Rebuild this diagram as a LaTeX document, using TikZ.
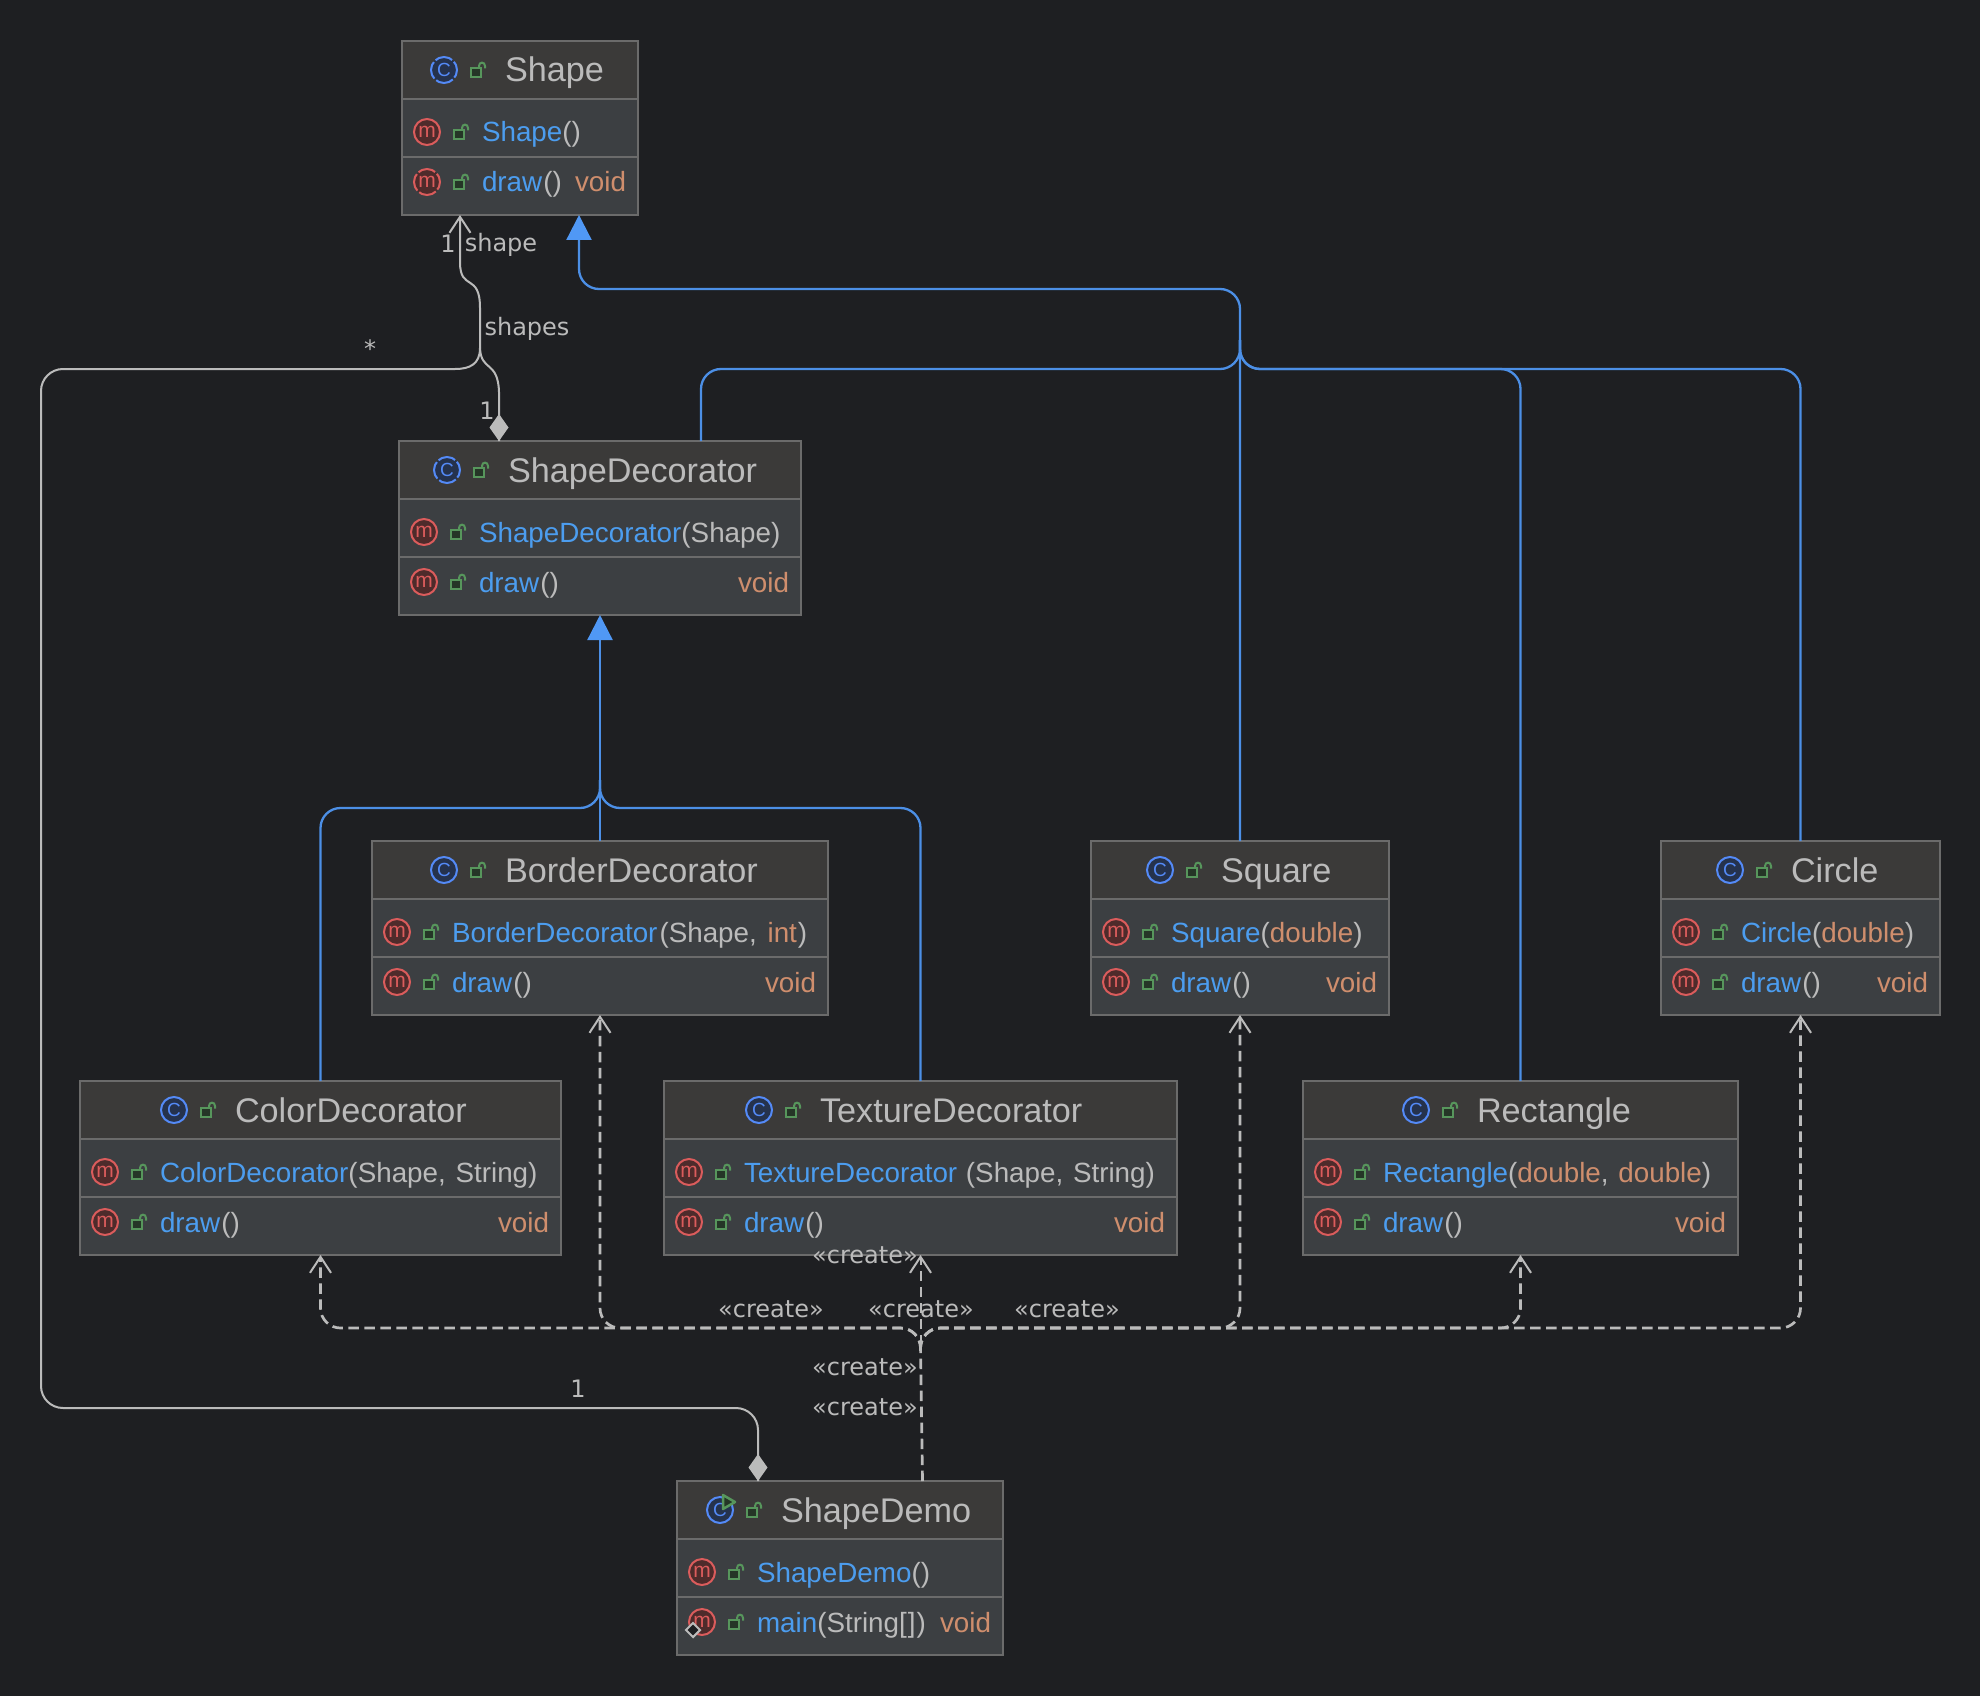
\documentclass[tikz,border=0pt]{standalone}
\usepackage{fontspec}
\setmainfont{Liberation Sans}
\newfontfamily\labelfont{DejaVu Sans}
\usetikzlibrary{arrows.meta,calc}
\definecolor{bgc}{HTML}{1E1F22}
\definecolor{headc}{HTML}{3B3A39}
\definecolor{rowc}{HTML}{3C3F42}
\definecolor{edgec}{HTML}{6B6B6B}
\definecolor{textc}{HTML}{BBBBBB}
\definecolor{namec}{HTML}{4C9DEF}
\definecolor{orgc}{HTML}{CF8E6D}
\definecolor{lockc}{HTML}{57965C}
\definecolor{lockf}{HTML}{253627}
\definecolor{redc}{HTML}{DB5C5C}
\definecolor{redf}{HTML}{4E2B2B}
\definecolor{bluec}{HTML}{548AF7}
\definecolor{bluef}{HTML}{25324D}
\definecolor{linkc}{HTML}{4C8FE6}
\definecolor{tipc}{HTML}{5098F5}
\definecolor{linec}{HTML}{BBBBBB}
\newcommand\mName[1]{\textcolor{namec}{#1}}
\newcommand\mPar[1]{\textcolor{textc}{#1}}
\newcommand\mOrg[1]{\textcolor{orgc}{#1}}
\tikzset{
  classbox/.style={draw=edgec,line width=2pt,inner sep=0pt,outer sep=0pt,anchor=north west},
  titletext/.style={anchor=base west,inner sep=0pt,outer sep=0pt,text=textc,font=\fontsize{34.2}{36}\selectfont},
  membertext/.style={anchor=base west,inner sep=0pt,outer sep=0pt,font=\fontsize{27.8}{30}\selectfont},
  voidtext/.style={anchor=base east,inner sep=0pt,outer sep=0pt,text=orgc,font=\fontsize{27.8}{30}\selectfont},
  linktext/.style={inner sep=0pt,outer sep=0pt,text=textc,font=\labelfont\fontsize{24}{26}\selectfont},
  mIcon/.style={circle,draw=redc,fill=redf,line width=2pt,minimum size=26pt,inner sep=0pt,text=redc,font=\fontsize{21}{22}\selectfont},
  cIcon/.style={circle,draw=bluec,fill=bluef,line width=2pt,minimum size=26pt,inner sep=0pt,text=bluec,font=\fontsize{19}{20}\selectfont},
  gapped/.style={dash pattern=on 18pt off 2.5pt,dash phase=9pt},
  assoc/.style={draw=linec,line width=2pt},
  inherit/.style={draw=linkc,line width=2.3pt,rounded corners=20pt},
  create/.style={draw=linec,line width=2.7pt,dash pattern=on 10.5pt off 5.5pt,rounded corners=20pt},
  lock/.pic={
    \draw[lockc,line width=2pt,fill=lockf] (-7,-2) rectangle (3,7);
    \draw[lockc,line width=2pt] (1,-2) -- (1,-4) .. controls (1,-8.5) and (7,-8.5) .. (7,-4) -- (7,-1.5);
  },
}
\newcommand\umlclass[9]{%
  \pgfmathsetmacro\bw{#4-#2}%
  \pgfmathsetmacro\lineA{#3+58}\pgfmathsetmacro\lineB{#3+116}\pgfmathsetmacro\bot{#3+174}%
  \pgfmathsetmacro\titleB{#3+41}\pgfmathsetmacro\titleC{#3+29}%
  \pgfmathsetmacro\rowAc{#3+91}\pgfmathsetmacro\rowBc{#3+141}%
  \pgfmathsetmacro\rowAb{#3+101}\pgfmathsetmacro\rowBb{#3+151}%
  \pgfmathsetmacro\mx{#2+25}\pgfmathsetmacro\lx{#2+59}\pgfmathsetmacro\tx{#2+80}%
  \pgfmathsetmacro\cx{#5-61}\pgfmathsetmacro\clx{#5-27}\pgfmathsetmacro\vx{#4-12}%
  \fill[rowc] (#2,#3) rectangle (#4,\bot);
  \fill[headc] (#2,#3) rectangle (#4,\lineA);
  \node[classbox,minimum width=\bw pt,minimum height=174pt] (#1) at (#2,#3) {};
  \draw[edgec,line width=2pt] (#2,\lineA) -- (#4,\lineA);
  \draw[edgec,line width=2pt] (#2,\lineB) -- (#4,\lineB);
  \node[cIcon,#7] (#1-icon) at (\cx,\titleC) {C};
  \pic at (\clx,\titleC) {lock};
  \node[titletext] (#1-title) at (#5,\titleB) {#6};
  \node[mIcon] (#1-micon) at (\mx,\rowAc) {m};
  \pic at (\lx,\rowAc) {lock};
  \node[membertext] (#1-ctor) at (\tx,\rowAb) {#8};
  \node[mIcon,\drawicon] (#1-dicon) at (\mx,\rowBc) {m};
  \pic at (\lx,\rowBc) {lock};
  \node[membertext] (#1-method) at (\tx,\rowBb) {#9};
  \node[voidtext] (#1-void) at (\vx,\rowBb) {void};
}
\newcommand\drawicon{}
\begin{document}
\begin{tikzpicture}[x=1pt,y=-1pt]
\fill[bgc] (0,0) rectangle (1980,1696);
\useasboundingbox (0,0) rectangle (1980,1696);

\renewcommand\drawicon{gapped}
\umlclass{shape}{402}{41}{638}{505}{Shape}{gapped}{\mName{Shape}\mPar{()}}{\mName{draw}\mPar{\hspace{1pt}()}}
\renewcommand\drawicon{}
\umlclass{deco}{399}{441}{801}{508}{ShapeDecorator}{gapped}{\mName{ShapeDecorator}\mPar{(Shape)}}{\mName{draw}\mPar{\hspace{1pt}()}}
\umlclass{border}{372}{841}{828}{505}{BorderDecorator}{}{\mName{BorderDecorator}\mPar{\hspace{2pt}(Shape,\hspace{3pt} }\mOrg{int}\mPar{\hspace{1pt})}}{\mName{draw}\mPar{\hspace{1pt}()}}
\umlclass{square}{1091}{841}{1389}{1221}{Square}{}{\mName{Square}\mPar{(}\mOrg{double}\mPar{)}}{\mName{draw}\mPar{\hspace{1pt}()}}
\umlclass{circle}{1661}{841}{1940}{1791}{Circle}{}{\mName{Circle}\mPar{(}\mOrg{double}\mPar{)}}{\mName{draw}\mPar{\hspace{1pt}()}}
\umlclass{color}{80}{1081}{561}{235}{ColorDecorator}{}{\mName{ColorDecorator}\mPar{(Shape,\hspace{2pt} String)}}{\mName{draw}\mPar{\hspace{1pt}()}}
\umlclass{texture}{664}{1081}{1177}{820}{TextureDecorator}{}{\mName{TextureDecorator}\mPar{\hspace{1pt} (Shape,\hspace{2pt} String)}}{\mName{draw}\mPar{\hspace{1pt}()}}
\umlclass{rectangle}{1303}{1081}{1738}{1477}{Rectangle}{}{\mName{Rectangle}\mPar{(}\mOrg{double}\mPar{,\hspace{2pt} }\mOrg{double}\mPar{)}}{\mName{draw}\mPar{\hspace{1pt}()}}
\umlclass{demo}{677}{1481}{1003}{781}{ShapeDemo}{}{\mName{ShapeDemo}\mPar{()}}{\mName{main}\mPar{(String[\hspace{1pt}]\hspace{1pt})}}
% run marker and static marker of ShapeDemo
\draw[lockc,line width=2.5pt,fill=lockf,line join=round] (723,1495) -- (735,1502) -- (723,1509) -- cycle;
\node[draw=textc,fill=bgc,line width=2pt,rotate=45,minimum size=10pt,inner sep=0pt] (demo-static) at (693,1630) {};

% bends and buses
\coordinate (busTop) at (0,289);
\coordinate (busMid) at (0,369);
\coordinate (busDeco) at (0,808);
\coordinate (busCreate) at (0,1328);
\coordinate (shapeBase) at ([xshift=177pt]shape.south west);
\coordinate (decoLeg) at ([xshift=302pt]deco.north west);
\coordinate (mergeBlue) at (1240,340);
\coordinate (mergeDeco) at (600,780);

% inheritance
\draw[inherit,-{Triangle[length=25pt,width=25pt,color=tipc]}] (square.north) -- (square.north |- busTop) -- (shapeBase |- busTop) -- (shapeBase);
\draw[inherit] (decoLeg) -- (decoLeg |- busMid) -- (square.north |- busMid) -- (mergeBlue);
\draw[inherit] (rectangle.north) -- (rectangle.north |- busMid) -- (square.north |- busMid) -- (mergeBlue);
\draw[inherit] (circle.north) -- (circle.north |- busMid) -- (square.north |- busMid) -- (mergeBlue);
\draw[inherit,-{Triangle[length=25pt,width=25pt,color=tipc]}] (border.north) -- (deco.south);
\draw[inherit] (color.north) -- (color.north |- busDeco) -- (mergeDeco |- busDeco) -- (mergeDeco);
\draw[inherit] (texture.north) -- (texture.north |- busDeco) -- (mergeDeco |- busDeco) -- (mergeDeco);

% associations
\coordinate (shapeEnd) at ([xshift=58pt]shape.south west);
\coordinate (decoEnd) at ([xshift=100pt]deco.north west);
\coordinate (demoEnd) at ([xshift=81pt]demo.north west);
\coordinate (kinkA) at (460,262);
\coordinate (kinkB) at (480,308);
\coordinate (split) at (480,348);
\coordinate (busLeft) at (455,369);
\draw[assoc,{Straight Barb[length=16pt,width=21pt]}-] (shapeEnd) -- (kinkA) .. controls (460,292) and (480,272) .. (kinkB) -- (split) .. controls (480,364) and (470,369) .. (busLeft);
\draw[assoc,rounded corners=22pt] (busLeft) -- (41,369) -- (41,1408) -- (demoEnd |- 0,1408) -- (demoEnd);
\fill[linec] (demoEnd) -- ++(9.5,-13.5) -- ++(-9.5,-13.5) -- ++(-9.5,13.5) -- cycle;
\draw[assoc] (split) .. controls (481,372) and (498,360) .. (499,392) -- (decoEnd);
\fill[linec] (decoEnd) -- ++(9.5,-13.5) -- ++(-9.5,-13.5) -- ++(-9.5,13.5) -- cycle;

% create dependencies
\coordinate (trunk) at (920.5,1345);
\draw[create] (demo.north -| 922.5,0) -- (trunk);
\draw[draw=linec,line width=2pt,dash pattern=on 10pt off 6pt,-{Straight Barb[length=16pt,width=21pt,line width=2pt]}] (trunk) -- (texture.south);
\foreach \target in {border,color,square,rectangle,circle}{
  \draw[create,-{Straight Barb[length=16pt,width=21pt,line width=2pt]}] (trunk) -- (920.5,1328) -- (\target.south |- busCreate) -- (\target.south);
}

% labels
\node[linktext] (l1) at (448,244) {1};
\node[linktext] (l2) at (501,245) {shape};
\node[linktext] (l3) at (370,349) {*};
\node[linktext] (l4) at (527,329) {shapes};
\node[linktext] (l5) at (487,411) {1};
\node[linktext] (l6) at (578,1389) {1};
\node[linktext] (c1) at (865,1255) {«create»};
\node[linktext] (c2) at (771,1309) {«create»};
\node[linktext] (c3) at (921,1309) {«create»};
\node[linktext] (c4) at (1067,1309) {«create»};
\node[linktext] (c5) at (865,1367) {«create»};
\node[linktext] (c6) at (865,1407) {«create»};
\end{tikzpicture}
\end{document}
